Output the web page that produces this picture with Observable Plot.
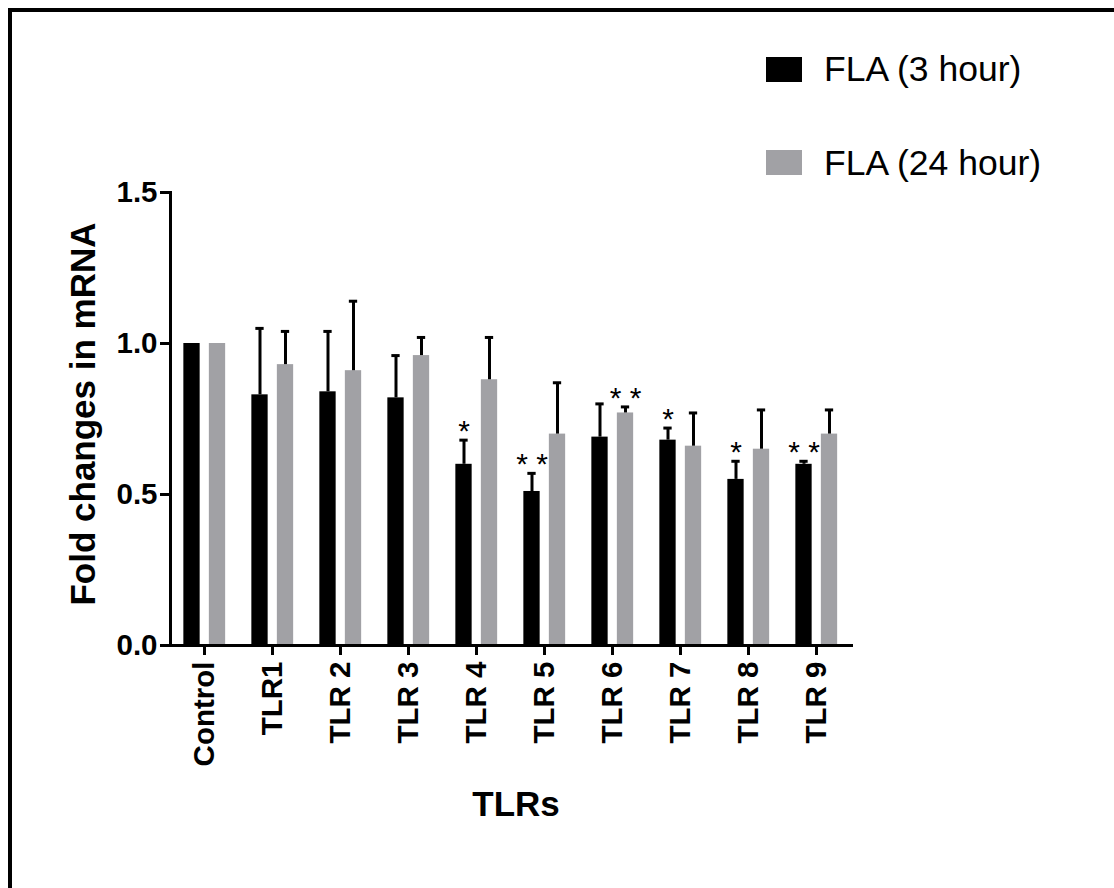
<!DOCTYPE html>
<html>
<head>
<meta charset="utf-8">
<script src="https://cdn.jsdelivr.net/npm/d3@7"></script>
<script src="https://cdn.jsdelivr.net/npm/@observablehq/plot@0.6"></script>
<style>
  html, body { margin: 0; padding: 0; background: #fff; }
  body { width: 1114px; height: 888px; position: relative; overflow: hidden;
         font-family: "Liberation Sans", Arial, Helvetica, sans-serif; }
  #frame { position: absolute; left: 8px; top: 8px; width: 1200px; height: 1000px;
           border-left: 4px solid #000; border-top: 4px solid #000; box-sizing: border-box; }
  #chart { position: absolute; left: 0; top: 0; }
  #legend { position: absolute; left: 0; top: 0; }
  .sw { position: absolute; left: 766px; width: 36px; height: 25px; }
  .lab { position: absolute; left: 824px; font-size: 35.5px; line-height: 35px; white-space: nowrap; color: #000; }
</style>
</head>
<body>
<div id="frame"></div>
<div id="chart"></div>
<div id="legend"></div>
<script>
// ---- data ----
const categories = ["Control", "TLR1", "TLR 2", "TLR 3", "TLR 4", "TLR 5", "TLR 6", "TLR 7", "TLR 8", "TLR 9"];
const seriesNames = ["FLA (3 hour)", "FLA (24 hour)"];
const seriesColors = ["#000000", "#a1a1a5"];
const mean3h  = [1.00, 0.83, 0.84, 0.82, 0.60, 0.51, 0.69, 0.68, 0.55, 0.60];
const upper3h = [null, 1.05, 1.04, 0.96, 0.68, 0.57, 0.80, 0.72, 0.61, 0.61];
const mean24h  = [1.00, 0.93, 0.91, 0.96, 0.88, 0.70, 0.77, 0.66, 0.65, 0.70];
const upper24h = [null, 1.04, 1.14, 1.02, 1.02, 0.87, 0.79, 0.77, 0.78, 0.78];
const sig3h  = ["", "", "", "", "*", "**", "", "*", "*", "**"];
const sig24h = ["", "", "", "", "", "", "**", "", "", ""];
const yTicks = [0, 0.5, 1.0, 1.5];
const yTitle = "Fold changes in mRNA";
const xTitle = "TLRs";

// ---- build rows ----
const rows3 = categories.map((c, i) => ({cat: c, mean: mean3h[i], upper: upper3h[i], sig: sig3h[i]}));
const rows24 = categories.map((c, i) => ({cat: c, mean: mean24h[i], upper: upper24h[i], sig: sig24h[i]}));

const W = 1114, H = 888;
const xRange = [166, 853];
const step = (xRange[1] - xRange[0]) / categories.length;
const barW = 17, capW = 9;
const barInset = (step - barW) / 2;
const capInset = (step - capW) / 2;
const FONT = "Liberation Sans, Arial, Helvetica, sans-serif";

function seriesMarks(rows, fill, dx) {
  const err = rows.filter(d => d.upper != null);
  const sig = rows.filter(d => d.sig);
  return [
    Plot.barY(rows, {x: "cat", y: "mean", fill, dx, insetLeft: barInset, insetRight: barInset}),
    Plot.ruleX(err, {x: "cat", y1: "mean", y2: "upper", stroke: "#000", strokeWidth: 3, dx}),
    Plot.tickY(err, {x: "cat", y: "upper", stroke: "#000", strokeWidth: 3, dx, insetLeft: capInset, insetRight: capInset}),
    Plot.text(sig, {x: "cat", y: d => (d.upper != null ? d.upper : d.mean), text: d => d.sig.split("").join(" "),
      dx, dy: 1, lineAnchor: "bottom", fontSize: 30, fill: "#000", fontFamily: FONT})
  ];
}

const chart = Plot.plot({
  width: W,
  height: H,
  marginLeft: 170,
  marginRight: W - xRange[1],
  marginTop: 192,
  marginBottom: H - 645,
  style: {background: "transparent", fontFamily: FONT, overflow: "visible"},
  x: {domain: categories, range: xRange, padding: 0},
  y: {domain: [0, 1.5]},
  marks: [
    ...seriesMarks(rows3, seriesColors[0], -12.5),
    ...seriesMarks(rows24, seriesColors[1], 13),
    Plot.axisY({ticks: yTicks, tickFormat: d3.format(".1f"), tickSize: 10, tickPadding: 3,
      fontSize: 29.5, fontWeight: "bold", strokeWidth: 3, label: null}),
    Plot.axisX({tickSize: 10, tickPadding: 6, tickRotate: -90, fontSize: 29.5, fontWeight: "bold", strokeWidth: 3, label: null}),
    Plot.frame({anchor: "left", strokeWidth: 3}),
    Plot.ruleY([0], {strokeWidth: 3}),
    Plot.text([yTitle], {text: d => d, frameAnchor: "left", textAnchor: "middle", lineAnchor: "middle",
      rotate: -90, dx: -87, dy: -5,
      fontSize: 35, fontWeight: "bold", fill: "#000", fontFamily: FONT}),
    Plot.text([xTitle], {text: d => d, frameAnchor: "bottom", textAnchor: "middle", lineAnchor: "bottom", dx: 4, dy: 170,
      fontSize: 35, fontWeight: "bold", fill: "#000", fontFamily: FONT})
  ]
});
document.getElementById("chart").appendChild(chart);

// ---- legend ----
const legend = document.getElementById("legend");
const swTops = [57, 150];
const labTops = [52, 146];
seriesNames.forEach((name, i) => {
  const sw = document.createElement("div");
  sw.className = "sw";
  sw.style.top = swTops[i] + "px";
  sw.style.background = seriesColors[i];
  legend.appendChild(sw);
  const lab = document.createElement("div");
  lab.className = "lab";
  lab.style.top = labTops[i] + "px";
  lab.textContent = name;
  legend.appendChild(lab);
});
</script>
</body>
</html>
